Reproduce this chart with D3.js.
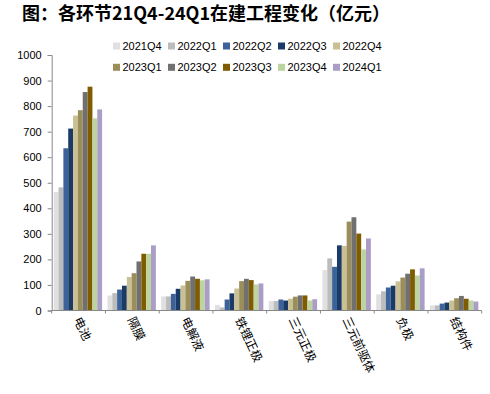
<!DOCTYPE html>
<html><head><meta charset="utf-8">
<script src="https://cdn.jsdelivr.net/npm/d3@7/dist/d3.min.js"></script>
<style>
html,body{margin:0;padding:0;background:#fff;}
svg{display:block;}
</style></head>
<body>
<svg id="c" width="490" height="394"></svg>
<script>
const title = "图：各环节21Q4-24Q1在建工程变化（亿元）";
const categories = ["电池","隔膜","电解液","铁锂正极","三元正极","三元前驱体","负极","结构件"];
const seriesNames = ["2021Q4","2022Q1","2022Q2","2022Q3","2022Q4","2023Q1","2023Q2","2023Q3","2023Q4","2024Q1"];
const seriesColors = ["#e0e0e0","#bcbcbc","#3b6399","#1b3b66","#c9c095","#9b8e58","#707070","#7f5c00","#bdd3a0","#ab9ec6"];
// values per category, in series order
const v电池     = [464,482,635,712,763,784,855,876,752,787];
const v隔膜     = [59,68,82,97,131,146,192,222,222,255];
const v电解液   = [55,55,65,85,98,116,133,124,118,122];
const v铁锂正极 = [22,12,43,67,86,115,124,119,102,106];
const v三元正极 = [37,37,43,39,46,54,59,59,39,44];
const v三元前驱体 = [158,204,171,255,253,348,365,301,239,282];
const v负极     = [63,75,90,97,114,129,144,161,137,165];
const v结构件   = [20,20,27,31,39,48,57,46,39,35];
const values = [v电池,v隔膜,v电解液,v铁锂正极,v三元正极,v三元前驱体,v负极,v结构件];
const yTicks = [0,100,200,300,400,500,600,700,800,900,1000];

const svg = d3.select("#c");
const pLeft = 51.7, pRight = 481.7, pTop = 55, pBottom = 310.5;

svg.append("text").attr("x",22).attr("y",19.5)
  .attr("font-family","'Noto Sans CJK SC', sans-serif").attr("font-weight","bold")
  .attr("font-size",18).attr("fill","#000").text(title);

const x0 = d3.scaleBand().domain(categories).range([pLeft,pRight]).padding(0);
const x1 = d3.scaleBand().domain(seriesNames).range([2, 50.4]).padding(0);
const y = d3.scaleLinear().domain([0,1000]).range([pBottom, pTop]);
const color = d3.scaleOrdinal().domain(seriesNames).range(seriesColors);

// bars
const g = svg.append("g");
categories.forEach((c,ci)=>{
  const cg = g.append("g").attr("transform",`translate(${x0(c)},0)`);
  cg.selectAll("rect").data(seriesNames.map((s,si)=>({s, v: values[ci][si]})))
    .join("rect")
    .attr("x", d=>x1(d.s)).attr("width", x1.bandwidth())
    .attr("y", d=>y(d.v)).attr("height", d=>pBottom - y(d.v))
    .attr("fill", d=>color(d.s));
});

// y axis
const yAxis = d3.axisLeft(y).tickValues(yTicks).tickSize(4).tickPadding(6).tickFormat(d3.format("d"));
const ya = svg.append("g").attr("transform",`translate(${pLeft},0)`).call(yAxis);
ya.select(".domain").attr("stroke","#888");
ya.selectAll(".tick line").attr("stroke","#888");
ya.selectAll("text").attr("font-family","'Liberation Sans', Arial, sans-serif").attr("font-size",11).attr("fill","#000");

// x axis
svg.append("line").attr("x1",pLeft).attr("x2",pRight).attr("y1",pBottom).attr("y2",pBottom).attr("stroke","#888");
const bounds = categories.map(c=>x0(c)).concat([pRight]);
svg.selectAll(".xt").data(bounds).join("line")
  .attr("x1",d=>d).attr("x2",d=>d).attr("y1",pBottom).attr("y2",pBottom+3).attr("stroke","#888");
svg.selectAll(".xl").data(categories).join("text")
  .attr("transform", c=>`translate(${x0(c)+x0.bandwidth()/2-5},${pBottom+9}) rotate(65)`)
  .attr("font-family","'Noto Sans CJK SC', sans-serif").attr("font-size",12).attr("fill","#000")
  .text(c=>c);

// legend
const lg = svg.append("g");
seriesNames.forEach((s,i)=>{
  const col = i%5, row = Math.floor(i/5);
  const lx = 113 + col*55, ly = 46 + row*21.3;
  lg.append("rect").attr("x",lx).attr("y",ly-3.5).attr("width",7).attr("height",7).attr("fill",color(s));
  lg.append("text").attr("x",lx+9.5).attr("y",ly).attr("dy","0.35em")
    .attr("font-family","'Liberation Sans', Arial, sans-serif").attr("font-size",11).attr("fill","#000").text(s);
});
</script>
</body></html>
